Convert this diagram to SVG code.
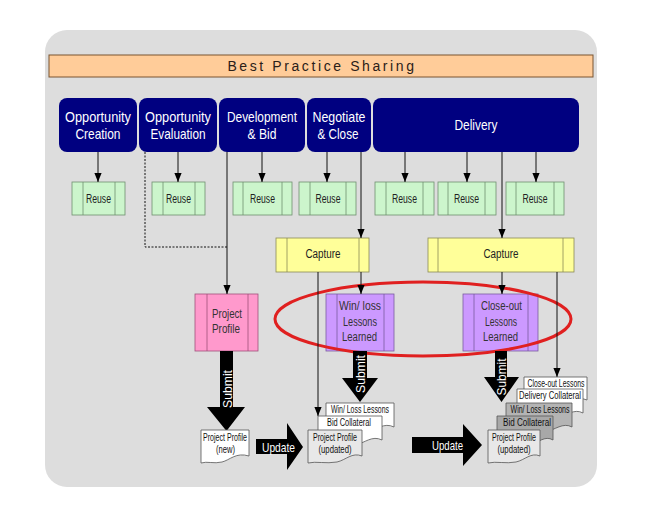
<svg xmlns="http://www.w3.org/2000/svg" width="660" height="510" viewBox="0 0 660 510">
<defs>
<marker id="ah" viewBox="0 0 10 8" refX="10" refY="4" markerWidth="9" markerHeight="8" markerUnits="userSpaceOnUse" orient="auto"><path d="M0,0 L10,4 L0,8 z" fill="#000"/></marker>
<style>
.t{font-family:"Liberation Sans",Arial,sans-serif;text-anchor:middle}
.phase rect{fill:#000080}
.phase text{fill:#fff;font-size:15px}
.reuse rect{fill:#ccf5cc;stroke:#6f8f6f;stroke-width:0.8}
.reuse line{stroke:#6f8f6f;stroke-width:0.8}
.reuse text{fill:#222;font-size:12px}
.cap rect{fill:#ffff99;stroke:#8a8a55;stroke-width:0.8}
.cap line{stroke:#8a8a55;stroke-width:0.8}
.cap text{fill:#222;font-size:12.5px}
.pp rect{fill:#ff99cc;stroke:#a0507a;stroke-width:0.8}
.pp line{stroke:#a0507a;stroke-width:0.8}
.ll rect{fill:#cc99ff;stroke:#7a5ca0;stroke-width:0.8}
.ll line{stroke:#7a5ca0;stroke-width:0.8}
.box text{fill:#333;font-size:12.5px}
.doc path{stroke:#555;stroke-width:0.8}
.doc text{fill:#111;font-size:10px}
.big path{fill:#000}
.big text{fill:#fff;font-size:13.5px}
.conn line,.conn path{stroke:#111;stroke-width:1;fill:none}
</style>
</defs>
<rect x="45" y="30" width="552" height="457" rx="22" fill="#dddddd"/>
<g id="title">
<rect x="49" y="55" width="544" height="22" fill="#ffcc99" stroke="#7a5530" stroke-width="1"/>
<text x="322" y="71" style="font-family:'Liberation Sans',Arial,sans-serif;font-size:14px;letter-spacing:2.6px;text-anchor:middle;fill:#2a2018">Best Practice Sharing</text>
</g>
<g id="opp-creation" class="phase t"><rect x="59" y="98" width="78" height="54" rx="8"/><text x="98" y="122" textLength="66" lengthAdjust="spacingAndGlyphs">Opportunity</text><text x="98" y="139" textLength="45" lengthAdjust="spacingAndGlyphs">Creation</text></g>
<g id="opp-evaluation" class="phase t"><rect x="139" y="98" width="78" height="54" rx="8"/><text x="178" y="122" textLength="66" lengthAdjust="spacingAndGlyphs">Opportunity</text><text x="178" y="139" textLength="55" lengthAdjust="spacingAndGlyphs">Evaluation</text></g>
<g id="dev-bid" class="phase t"><rect x="219" y="98" width="86" height="54" rx="8"/><text x="262" y="122" textLength="70" lengthAdjust="spacingAndGlyphs">Development</text><text x="262" y="139" textLength="29" lengthAdjust="spacingAndGlyphs">&amp; Bid</text></g>
<g id="negotiate" class="phase t"><rect x="307" y="98" width="64" height="54" rx="8"/><text x="339" y="122" textLength="53" lengthAdjust="spacingAndGlyphs">Negotiate</text><text x="338" y="139" textLength="41" lengthAdjust="spacingAndGlyphs">&amp; Close</text></g>
<g id="delivery" class="phase t"><rect x="373" y="98" width="206" height="54" rx="8"/><text x="476" y="130" textLength="43" lengthAdjust="spacingAndGlyphs">Delivery</text></g>

<g id="reuse1" class="reuse t"><rect x="72" y="182" width="53" height="33"/><line x1="83" y1="182" x2="83" y2="215"/><line x1="115" y1="182" x2="115" y2="215"/><text x="98.5" y="202.5" textLength="25" lengthAdjust="spacingAndGlyphs">Reuse</text></g>
<g id="reuse2" class="reuse t"><rect x="152" y="182" width="53" height="33"/><line x1="163" y1="182" x2="163" y2="215"/><line x1="195" y1="182" x2="195" y2="215"/><text x="178.5" y="202.5" textLength="25" lengthAdjust="spacingAndGlyphs">Reuse</text></g>
<g id="reuse3" class="reuse t"><rect x="233" y="182" width="59" height="33"/><line x1="243" y1="182" x2="243" y2="215"/><line x1="282" y1="182" x2="282" y2="215"/><text x="262.5" y="202.5" textLength="25" lengthAdjust="spacingAndGlyphs">Reuse</text></g>
<g id="reuse4" class="reuse t"><rect x="299" y="182" width="57" height="33"/><line x1="310" y1="182" x2="310" y2="215"/><line x1="346" y1="182" x2="346" y2="215"/><text x="328" y="202.5" textLength="25" lengthAdjust="spacingAndGlyphs">Reuse</text></g>
<g id="reuse5" class="reuse t"><rect x="375" y="182" width="59" height="33"/><line x1="386" y1="182" x2="386" y2="215"/><line x1="423" y1="182" x2="423" y2="215"/><text x="404.5" y="202.5" textLength="25" lengthAdjust="spacingAndGlyphs">Reuse</text></g>
<g id="reuse6" class="reuse t"><rect x="438" y="182" width="58" height="33"/><line x1="448" y1="182" x2="448" y2="215"/><line x1="485" y1="182" x2="485" y2="215"/><text x="466.5" y="202.5" textLength="25" lengthAdjust="spacingAndGlyphs">Reuse</text></g>
<g id="reuse7" class="reuse t"><rect x="506" y="182" width="58" height="33"/><line x1="516" y1="182" x2="516" y2="215"/><line x1="554" y1="182" x2="554" y2="215"/><text x="535" y="202.5" textLength="25" lengthAdjust="spacingAndGlyphs">Reuse</text></g>

<g id="capture1" class="cap t"><rect x="276" y="238" width="93" height="34"/><line x1="287" y1="238" x2="287" y2="272"/><line x1="359" y1="238" x2="359" y2="272"/><text x="323" y="258" textLength="35" lengthAdjust="spacingAndGlyphs">Capture</text></g>
<g id="capture2" class="cap t"><rect x="428" y="238" width="146" height="34"/><line x1="438" y1="238" x2="438" y2="272"/><line x1="563" y1="238" x2="563" y2="272"/><text x="501" y="258" textLength="35" lengthAdjust="spacingAndGlyphs">Capture</text></g>

<g id="project-profile" class="pp box t"><rect x="195" y="294" width="63" height="57"/><line x1="207" y1="294" x2="207" y2="351"/><line x1="248" y1="294" x2="248" y2="351"/><text x="227" y="318" textLength="30" lengthAdjust="spacingAndGlyphs">Project</text><text x="226" y="333" textLength="28" lengthAdjust="spacingAndGlyphs">Profile</text></g>
<g id="winloss-ll" class="ll box t"><rect x="326" y="294" width="68" height="57"/><line x1="337" y1="294" x2="337" y2="351"/><line x1="384" y1="294" x2="384" y2="351"/><text x="360" y="310" textLength="42" lengthAdjust="spacingAndGlyphs">Win/ loss</text><text x="360" y="326" textLength="34" lengthAdjust="spacingAndGlyphs">Lessons</text><text x="359.5" y="341" textLength="35" lengthAdjust="spacingAndGlyphs">Learned</text></g>
<g id="closeout-ll" class="ll box t"><rect x="463" y="294" width="75" height="57"/><line x1="474" y1="294" x2="474" y2="351"/><line x1="528" y1="294" x2="528" y2="351"/><text x="501.5" y="310" textLength="41" lengthAdjust="spacingAndGlyphs">Close-out</text><text x="501" y="326" textLength="32" lengthAdjust="spacingAndGlyphs">Lessons</text><text x="500.5" y="341" textLength="35" lengthAdjust="spacingAndGlyphs">Learned</text></g>

<ellipse id="highlight" cx="423" cy="319" rx="148" ry="37" fill="none" stroke="#e02020" stroke-width="3"/>

<g id="connectors" class="conn">
<line x1="98" y1="152" x2="98" y2="182" marker-end="url(#ah)"/>
<line x1="178" y1="152" x2="178" y2="182" marker-end="url(#ah)"/>
<line x1="262" y1="152" x2="262" y2="182" marker-end="url(#ah)"/>
<line x1="327" y1="152" x2="327" y2="182" marker-end="url(#ah)"/>
<line x1="405" y1="152" x2="405" y2="182" marker-end="url(#ah)"/>
<line x1="467" y1="152" x2="467" y2="182" marker-end="url(#ah)"/>
<line x1="536" y1="152" x2="536" y2="182" marker-end="url(#ah)"/>
<path d="M145,152 V247 H227" stroke-dasharray="2,1.5"/>
<line x1="227" y1="152" x2="227" y2="294" marker-end="url(#ah)"/>
<line x1="361" y1="152" x2="361" y2="238" marker-end="url(#ah)"/>
<line x1="502" y1="152" x2="502" y2="238" marker-end="url(#ah)"/>
<line x1="361" y1="272" x2="361" y2="294" marker-end="url(#ah)"/>
<line x1="502" y1="272" x2="502" y2="294" marker-end="url(#ah)"/>
<line x1="318" y1="272" x2="318" y2="416" marker-end="url(#ah)"/>
<line x1="557" y1="272" x2="557" y2="377" marker-end="url(#ah)"/>
</g>

<g id="submit1" class="big t"><path d="M220,351 H233 V407 H245 L226.5,431 L207,407 H220 Z"/><text transform="translate(231.5,389) rotate(-90)" textLength="38" lengthAdjust="spacingAndGlyphs">Submit</text></g>
<g id="submit2" class="big t"><path d="M353,351 H367 V378 H378 L360,402 L342,378 H353 Z"/><text transform="translate(364.5,374) rotate(-90)" textLength="38" lengthAdjust="spacingAndGlyphs">Submit</text></g>
<g id="submit3" class="big t"><path d="M495,351 H507 V377 H519 L501.5,402 L484,377 H495 Z"/><text transform="translate(505.5,377) rotate(-90)" textLength="37" lengthAdjust="spacingAndGlyphs">Submit</text></g>

<g id="doc-pp-new" class="doc t"><path fill="#fff" d="M201,430 H249 V456 C236,452 230,460 222,462 C214,464 207,461 201,463 Z"/><text x="225" y="441" textLength="44" lengthAdjust="spacingAndGlyphs">Project Profile</text><text x="225.5" y="452.5" textLength="19" lengthAdjust="spacingAndGlyphs">(new)</text></g>

<g id="update1" class="big t"><path d="M256,439 H287 V423 L303,447 L287,470 V454 H256 Z"/><text x="278.5" y="451.5" textLength="33" lengthAdjust="spacingAndGlyphs">Update</text></g>

<g id="doc2-winloss" class="doc t"><path fill="#fff" d="M326,403 H394 V427 C384,422 376,430 366,432 C352,434 340,430 326,433 Z"/><text x="360" y="413" textLength="58" lengthAdjust="spacingAndGlyphs">Win/ Loss Lessons</text></g>
<g id="doc2-bid" class="doc t"><path fill="#fff" d="M318,416 H382 V440 C372,435 365,443 355,445 C342,447 330,443 318,446 Z"/><text x="349" y="426" textLength="44" lengthAdjust="spacingAndGlyphs">Bid Collateral</text></g>
<g id="doc2-pp" class="doc t"><path fill="#e8e8e8" d="M308,430 H362 V456 C352,452 346,460 337,462 C326,464 316,461 308,463 Z"/><text x="335" y="441" textLength="44" lengthAdjust="spacingAndGlyphs">Project Profile</text><text x="335" y="452.5" textLength="33" lengthAdjust="spacingAndGlyphs">(updated)</text></g>

<g id="update2" class="big t"><path d="M412,437 H463 V424 L482,445 L463,466 V453 H412 Z"/><text x="447.5" y="449.5" textLength="31" lengthAdjust="spacingAndGlyphs">Update</text></g>

<g id="doc3-closeout" class="doc t"><path fill="#fff" d="M524,377 H587 V400 C578,396 571,403 562,405 C549,407 537,403 524,406 Z"/><text x="556" y="387" textLength="57" lengthAdjust="spacingAndGlyphs">Close-out Lessons</text></g>
<g id="doc3-delivery" class="doc t"><path fill="#fff" d="M517,389 H583 V413 C574,408 566,416 556,418 C543,420 530,416 517,419 Z"/><text x="550" y="399" textLength="62" lengthAdjust="spacingAndGlyphs">Delivery Collateral</text></g>
<g id="doc3-winloss" class="doc t"><path fill="#b4b4b4" d="M506,403 H572 V427 C563,422 555,430 545,432 C532,434 519,430 506,433 Z"/><text x="540" y="413" textLength="59" lengthAdjust="spacingAndGlyphs">Win/ Loss Lessons</text></g>
<g id="doc3-bid" class="doc t"><path fill="#a8a8a8" d="M497,416 H553 V440 C545,435 538,443 529,445 C518,447 507,443 497,446 Z"/><text x="527" y="426" textLength="48" lengthAdjust="spacingAndGlyphs">Bid Collateral</text></g>
<g id="doc3-pp" class="doc t"><path fill="#e8e8e8" d="M488,430 H540 V456 C531,452 525,460 516,462 C506,464 496,461 488,463 Z"/><text x="514" y="441" textLength="44" lengthAdjust="spacingAndGlyphs">Project Profile</text><text x="514" y="452.5" textLength="33" lengthAdjust="spacingAndGlyphs">(updated)</text></g>
</svg>
